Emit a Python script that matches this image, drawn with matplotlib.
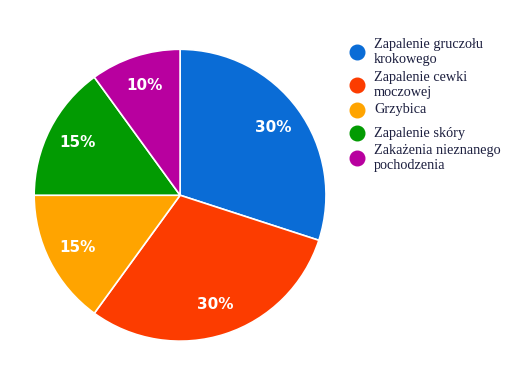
import matplotlib
matplotlib.use('Agg')
import matplotlib.pyplot as plt

# dane
labels = ['Zapalenie gruczołu\nkrokowego', 'Zapalenie cewki\nmoczowej', 'Grzybica',
          'Zapalenie skóry', 'Zakażenia nieznanego\npochodzenia']
values = [30, 30, 15, 15, 10]
colors = ['#0a6cd6', '#fc3c00', '#ffa400', '#029b02', '#b8009f']

W, H = 516, 368
fig = plt.figure(figsize=(W / 100, H / 100), dpi=100)
ax = fig.add_axes([0.066, 0.073, 0.566, 0.793])

wedges, texts = ax.pie(values, colors=colors, startangle=90, counterclock=False,
                       labels=[f'{v}%' for v in values], labeldistance=0.79,
                       wedgeprops=dict(edgecolor='white', linewidth=1.2))
for t in texts:
    t.set_color('white')
    t.set_fontsize(11)
    t.set_fontweight('bold')
    t.set_ha('center')
    t.set_va('center')
ax.set_xlim(-1, 1)
ax.set_ylim(-1, 1)
ax.set_aspect('equal')

# legenda rysowana recznie
ys = [52, 85, 110, 133, 158]
for lab, col, y in zip(labels, colors, ys):
    fig.lines.append(plt.Line2D([357 / W], [1 - y / H], marker='o', ms=10.5, color=col,
                                linestyle='none', transform=fig.transFigure))
    fig.text(374 / W, 1 - y / H, lab, family='Liberation Serif', fontsize=10.3,
             color='#1c1f3f', va='center', ha='left', linespacing=1.12)

fig.savefig('out.png', dpi=100)
